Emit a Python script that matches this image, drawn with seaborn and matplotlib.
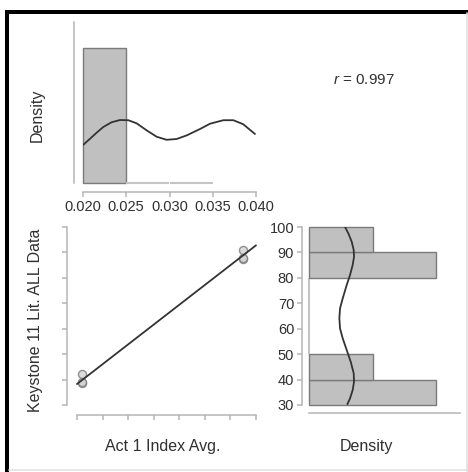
import numpy as np
import pandas as pd
import matplotlib
matplotlib.use("Agg")
import matplotlib.pyplot as plt
from matplotlib.lines import Line2D
import seaborn as sns

# ---------------- data ----------------
# Scatter: Act 1 Index Avg. vs Keystone 11 Lit. ALL Data
act1_index = [0.0199, 0.0199, 0.0199, 0.0385, 0.0385, 0.0385]
keystone = [38.5, 39.0, 42.0, 87.5, 88.0, 91.0]
r_text = "0.997"

# top marginal histogram (density) of Act 1 Index Avg.
x_bin_edges = [0.020, 0.025, 0.030, 0.035]
x_bin_density = [200, 0, 0]
x_ticks = [0.020, 0.025, 0.030, 0.035, 0.040]
x_tick_labels = ["0.020", "0.025", "0.030", "0.035", "0.040"]

# top density curve
x_kde_x = [0.02000, 0.02081, 0.02158, 0.02235, 0.02331, 0.02428, 0.02524, 0.02620,
           0.02736, 0.02852, 0.02967, 0.03083, 0.03198, 0.03353, 0.03468, 0.03622,
           0.03738, 0.03853, 0.03988]
x_kde_y = [56.3, 65.5, 74.6, 83.0, 90.0, 93.3, 93.0, 88.4, 78.0, 68.5, 64.0, 65.2,
           70.5, 80.0, 87.8, 93.0, 93.0, 87.0, 72.6]

# right marginal histogram (density) of Keystone
y_bin_edges = [30, 40, 50, 60, 70, 80, 90, 100]
y_bin_density = [2 / 60, 1 / 60, 0, 0, 0, 2 / 60, 1 / 60]
y_ticks = [30, 40, 50, 60, 70, 80, 90, 100]

# right density curve
y_kde_val = [100.0, 97.5, 94.2, 91.0, 88.3, 85.1, 81.1, 77.2, 71.9, 68.0, 64.1, 60.1,
             56.2, 51.6, 47.0, 42.5, 39.2, 35.9, 32.6, 30.3]
y_kde_dens = [0.00945, 0.01032, 0.01120, 0.01172, 0.01181, 0.01146, 0.01076, 0.00989,
              0.00884, 0.00814, 0.00796, 0.00814, 0.00884, 0.00989, 0.01094, 0.01172,
              0.01181, 0.01146, 0.01076, 0.01006]

scatter_xticks = list(np.linspace(0.0193, 0.0400, 8))

xlabel = "Act 1 Index Avg."
ylabel = "Keystone 11 Lit. ALL Data"

# ---------------- style ----------------
sns.set_theme(style="white")
plt.rcParams["font.family"] = ["Liberation Sans", "DejaVu Sans"]
plt.rcParams["mathtext.fontset"] = "custom"
plt.rcParams["mathtext.it"] = "Liberation Sans:italic"
plt.rcParams["mathtext.rm"] = "Liberation Sans"

W, H = 468, 472
fig = plt.figure(figsize=(W / 100, H / 100), dpi=100)
fig.patch.set_facecolor("white")

def box(l, t, r, b):
    return [l / W, 1 - b / H, (r - l) / W, (b - t) / H]

AX_C = "#b5b5b5"
TXT_C = "#303030"
BAR_C = "#c0c0c0"
BAR_E = "#7a7a7a"
ZERO_E = "#c4c4c4"
LINE_C = "#333333"
px2pt = 0.72

def style_axes(ax):
    ax.set_facecolor("none")
    for s in ["top", "right"]:
        ax.spines[s].set_visible(False)
    for s in ["left", "bottom"]:
        ax.spines[s].set_color(AX_C)
        ax.spines[s].set_linewidth(1.1)
    ax.tick_params(axis="both", direction="out", length=5 * px2pt, width=1.1,
                   color=AX_C, labelcolor=TXT_C, labelsize=10.5, pad=2,
                   bottom=True, left=True)
    ax.set_xlabel("")
    ax.set_ylabel("")

def lighten_zero_bars(ax, horizontal=False):
    for p in ax.patches:
        p.set_clip_on(False)
        size = p.get_width() if horizontal else p.get_height()
        if abs(size) < 1e-12:
            p.set_edgecolor(ZERO_E)
            p.set_linewidth(1.5)

# ---------------- top panel ----------------
ax_t = fig.add_axes(box(83, 22, 256, 183))
x_centers = [(a + b) / 2 for a, b in zip(x_bin_edges[:-1], x_bin_edges[1:])]
sns.histplot(x=x_centers, weights=x_bin_density, bins=x_bin_edges, stat="count",
             color=BAR_C, edgecolor=BAR_E, linewidth=1.0, alpha=1, ax=ax_t)
lighten_zero_bars(ax_t)
sns.lineplot(x=x_kde_x, y=x_kde_y, sort=False, estimator=None, color=LINE_C,
             linewidth=1.3, ax=ax_t)
ax_t.set_xlim(0.020, 0.040)
ax_t.set_ylim(0, 238.5)
style_axes(ax_t)
ax_t.spines["left"].set_position(("outward", 9 * px2pt))
ax_t.spines["bottom"].set_position(("outward", 9 * px2pt))
ax_t.set_yticks([])
ax_t.set_xticks(x_ticks)
ax_t.set_xticklabels(x_tick_labels)

# ---------------- scatter panel ----------------
ax_s = fig.add_axes(box(77, 227, 256, 405))
ax_s.set_xlim(scatter_xticks[0], scatter_xticks[-1])
ax_s.set_ylim(30, 100)
sns.regplot(x=act1_index, y=keystone, ci=None, truncate=False, ax=ax_s,
            scatter_kws=dict(color="#d2d2d2", edgecolor="#7a7a7a", s=34, linewidths=1.0, zorder=2),
            line_kws=dict(color=LINE_C, linewidth=1.3, zorder=3))
ax_s.set_xlim(scatter_xticks[0], scatter_xticks[-1])
ax_s.set_ylim(30, 100)
style_axes(ax_s)
ax_s.spines["left"].set_position(("outward", 10 * px2pt))
ax_s.spines["bottom"].set_position(("outward", 10 * px2pt))
ax_s.set_xticks(scatter_xticks)
ax_s.set_yticks(y_ticks)
ax_s.set_xticklabels([])
ax_s.set_yticklabels([])
for c in ax_s.collections + ax_s.lines:
    c.set_clip_on(False)

# ---------------- right panel ----------------
ax_r = fig.add_axes(box(309, 227, 460, 405))
y_centers = [(a + b) / 2 for a, b in zip(y_bin_edges[:-1], y_bin_edges[1:])]
sns.histplot(y=y_centers, weights=y_bin_density, bins=y_bin_edges, stat="count",
             color=BAR_C, edgecolor=BAR_E, linewidth=1.0, alpha=1, ax=ax_r)
lighten_zero_bars(ax_r, horizontal=True)
sns.lineplot(x=y_kde_dens, y=y_kde_val, sort=False, estimator=None, color=LINE_C,
             linewidth=1.3, ax=ax_r)
ax_r.set_xlim(0, 0.0396)
ax_r.set_ylim(30, 100)
style_axes(ax_r)
ax_r.spines["left"].set_position(("outward", 7 * px2pt))
ax_r.spines["bottom"].set_position(("outward", 8 * px2pt))
ax_r.set_xticks([])
ax_r.set_yticks(y_ticks)
ax_r.set_yticklabels([str(v) for v in y_ticks])

# ---------------- texts ----------------
def ftext(x, y, s, **kw):
    fig.text(x / W, 1 - y / H, s, color=TXT_C, **kw)

ftext(37, 115, "Density", rotation=90, ha="center", va="center", fontsize=11.5)
ftext(36, 320, ylabel, rotation=90, ha="center", va="center", fontsize=11.5)
ftext(163, 447, xlabel, ha="center", va="center", fontsize=11.5)
ftext(366, 447, "Density", ha="center", va="center", fontsize=11.5)
ftext(333, 80, "$r$ = " + r_text, ha="left", va="center", fontsize=11)

# ---------------- frame ----------------
fig.add_artist(Line2D([5 / W, 1.0], [1 - 11.5 / H, 1 - 11.5 / H], transform=fig.transFigure,
                      color="black", linewidth=4 * px2pt, solid_capstyle="butt"))
fig.add_artist(Line2D([7.5 / W, 7.5 / W], [1 - 9.5 / H, 0.0], transform=fig.transFigure,
                      color="black", linewidth=4 * px2pt, solid_capstyle="butt"))
fig.add_artist(Line2D([466.5 / W, 466.5 / W], [1 - 13 / H, 0.0], transform=fig.transFigure,
                      color="#e2e2e2", linewidth=1.2))
fig.add_artist(Line2D([9 / W, 1.0], [1 - 469.5 / H, 1 - 469.5 / H], transform=fig.transFigure,
                      color="#e2e2e2", linewidth=1.2))

fig.savefig("out.png", dpi=100, facecolor="white")
